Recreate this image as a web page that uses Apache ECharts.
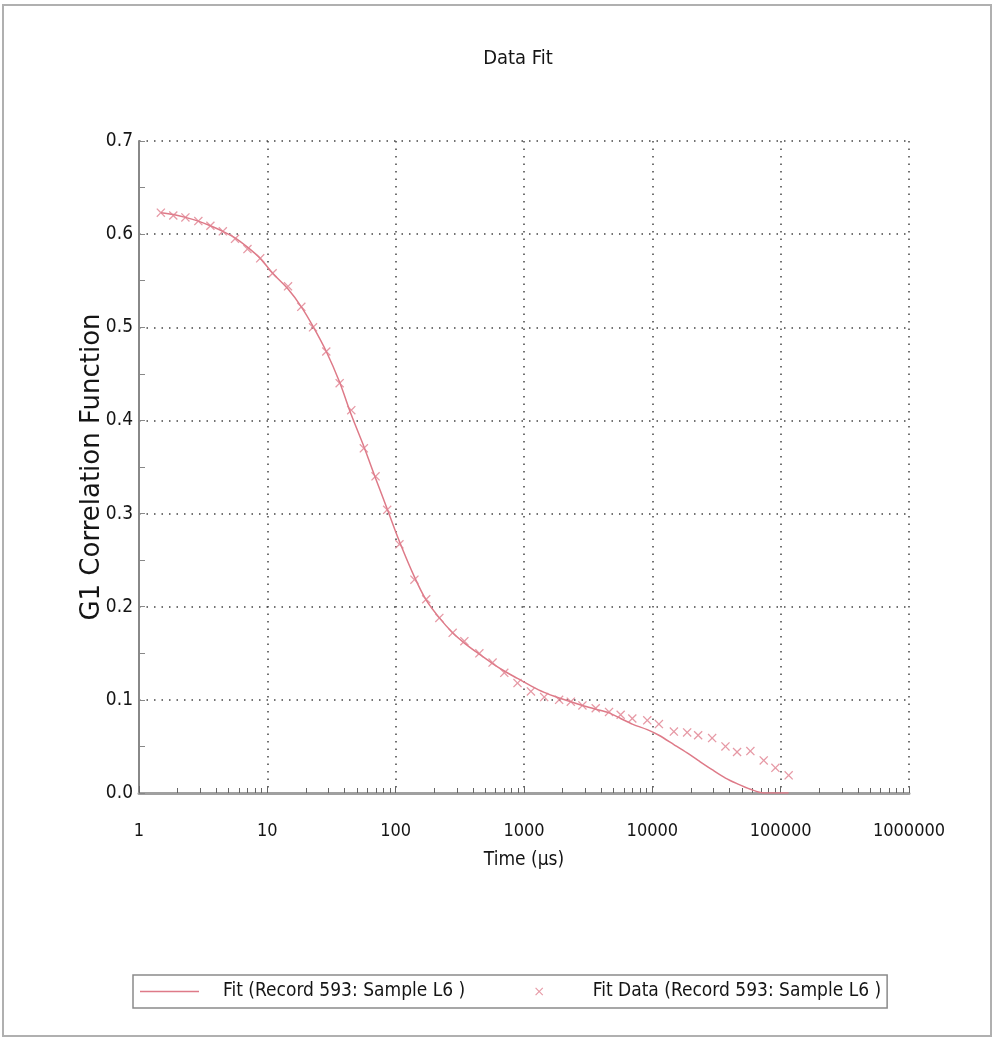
<!DOCTYPE html>
<html>
<head>
<meta charset="utf-8">
<script src="https://cdn.jsdelivr.net/npm/echarts@6/dist/echarts.min.js"></script>
<style>
html,body{margin:0;padding:0;background:#fff;}
#chart{width:995px;height:1040px;}
</style>
</head>
<body>
<div id="chart"></div>
<script>
// ---- data ----
var timeValues = [1.48, 1.85, 2.3, 2.9, 3.6, 4.5, 5.6, 7.0, 8.8, 11.0,
  14.5, 18.4, 22.7, 28.8, 36.6, 45.1, 56.5, 69.7, 85.9, 107,
  140, 173, 219, 278, 343, 449, 569, 702, 890, 1132,
  1437, 1878, 2316, 2853, 3622, 4600, 5665, 6980, 9130, 11250,
  14720, 18680, 22750, 29240, 37150, 45730, 58080, 73780, 91000, 115400];
var fitDataValues = [0.623, 0.620, 0.618, 0.614, 0.609, 0.603, 0.595, 0.584, 0.574, 0.558,
  0.544, 0.522, 0.500, 0.474, 0.440, 0.411, 0.370, 0.340, 0.304, 0.267,
  0.229, 0.208, 0.188, 0.172, 0.163, 0.150, 0.140, 0.129, 0.118, 0.109,
  0.103, 0.100, 0.098, 0.094, 0.091, 0.087, 0.084, 0.080, 0.078, 0.074,
  0.066, 0.065, 0.062, 0.059, 0.050, 0.044, 0.045, 0.035, 0.027, 0.019];
var fitValues = [0.623, 0.621, 0.618, 0.614, 0.609, 0.603, 0.596, 0.586, 0.574, 0.558,
  0.541, 0.522, 0.501, 0.474, 0.441, 0.406, 0.372, 0.338, 0.305, 0.270,
  0.232, 0.207, 0.188, 0.172, 0.161, 0.149, 0.139, 0.131, 0.123, 0.115,
  0.108, 0.102, 0.098, 0.094, 0.090, 0.086, 0.080, 0.074, 0.068, 0.062,
  0.052, 0.043, 0.035, 0.025, 0.016, 0.010, 0.004, 0.000, 0.000, 0.000];
var xTickLabels = [1, 10, 100, 1000, 10000, 100000, 1000000];
var yTickLabels = [0.0, 0.1, 0.2, 0.3, 0.4, 0.5, 0.6, 0.7];
var fitName = 'Fit (Record 593: Sample L6 )';
var dataName = 'Fit Data (Record 593: Sample L6 )';

// minor ticks of the log axis: 2..9 times each decade
var xMinorTicks = [];
xTickLabels.forEach(function (d, i) {
  if (i === xTickLabels.length - 1) return;
  for (var k = 2; k <= 9; k++) xMinorTicks.push(d * k);
});

var NARROW = "'Liberation Sans Narrow', 'Arial Narrow', 'DejaVu Sans Condensed', sans-serif";
var WIDE = "'DejaVu Sans', Verdana, sans-serif";
var TEXT = '#151515';
var LINE_COLOR = '#de7a88';
var MARK_COLOR = '#e0808f';
var X_PATH = 'path://M0,1L1,0L5,4L9,0L10,1L6,5L10,9L9,10L5,6L1,10L0,9L4,5Z';
var LINE_ICON = 'path://M0,0L59,0L59,1.5L0,1.5Z';

var chart = echarts.init(document.getElementById('chart'), null, {renderer: 'canvas'});
chart.setOption({
  backgroundColor: '#fff',
  animation: false,
  title: {
    text: 'Data Fit',
    left: 513, top: 44, textAlign: 'center',
    textStyle: {fontFamily: NARROW, fontSize: 20, fontWeight: 'normal', color: TEXT}
  },
  grid: {left: 139, right: 86, top: 141, bottom: 247, containLabel: false},
  xAxis: [{
    type: 'log', logBase: 10, min: 1, max: 1000000, splitNumber: 6,
    name: 'Time (\u00b5s)', nameLocation: 'middle', nameGap: 58, nameMoveOverlap: false,
    nameTextStyle: {fontFamily: NARROW, fontSize: 19, color: TEXT},
    axisLine: {show: true, lineStyle: {color: '#a0a0a0', width: 3}},
    axisTick: {show: true, inside: true, length: 7, lineStyle: {color: '#666', width: 1}},
    axisLabel: {margin: 29, fontFamily: NARROW, fontSize: 18, color: TEXT,
      formatter: function (v) { return String(Math.round(v)); }},
    splitLine: {show: true, lineStyle: {color: '#444', width: 1.5, type: [1.5, 6]}}
  }, {
    type: 'log', logBase: 10, min: 1, max: 1000000, position: 'bottom',
    axisLine: {show: false},
    axisTick: {show: true, inside: true, length: 5, customValues: xMinorTicks,
      lineStyle: {color: '#666', width: 1}},
    axisLabel: {show: false},
    splitLine: {show: false}
  }],
  yAxis: {
    type: 'value', min: 0, max: 0.7, interval: 0.1,
    name: 'G1 Correlation Function', nameLocation: 'middle', nameGap: 34, nameMoveOverlap: false,
    nameTextStyle: {fontFamily: WIDE, fontSize: 26, color: TEXT},
    axisLine: {show: true, lineStyle: {color: '#888', width: 2}},
    axisTick: {show: true, inside: true, length: 6, lineStyle: {color: '#888'}},
    minorTick: {show: true, splitNumber: 2, length: 6, lineStyle: {color: '#888'}},
    axisLabel: {margin: 6, fontFamily: NARROW, fontSize: 19, color: TEXT,
      formatter: function (v) { return v.toFixed(1); }},
    splitLine: {show: true, lineStyle: {color: '#444', width: 1.5, type: [1.5, 6]}}
  },
  legend: {
    left: 133, top: 975,
    padding: [6, 6, 6, 7],
    borderColor: '#8a8a8a', borderWidth: 1.5,
    itemWidth: 59, itemHeight: 8, itemGap: 70,
    textStyle: {fontFamily: NARROW, fontSize: 19, color: TEXT, padding: [0, 0, 0, 19], lineHeight: 21},
    data: [
      {name: fitName, icon: LINE_ICON},
      {name: dataName, icon: X_PATH}
    ]
  },
  graphic: [{
    type: 'rect', silent: true, z: 100,
    shape: {x: 3, y: 5, width: 988, height: 1031},
    style: {fill: 'none', stroke: '#b0b0b0', lineWidth: 2}
  }],
  series: [
    {
      name: fitName, type: 'line', symbol: 'none', smooth: 0.3,
      lineStyle: {color: LINE_COLOR, width: 1.5},
      itemStyle: {color: LINE_COLOR},
      data: timeValues.map(function (t, i) { return [t, fitValues[i]]; }),
      z: 3
    },
    {
      name: dataName, type: 'scatter', symbol: X_PATH, symbolSize: 9,
      itemStyle: {color: MARK_COLOR},
      data: timeValues.map(function (t, i) { return [t, fitDataValues[i]]; }),
      z: 4
    }
  ]
});
</script>
</body>
</html>
